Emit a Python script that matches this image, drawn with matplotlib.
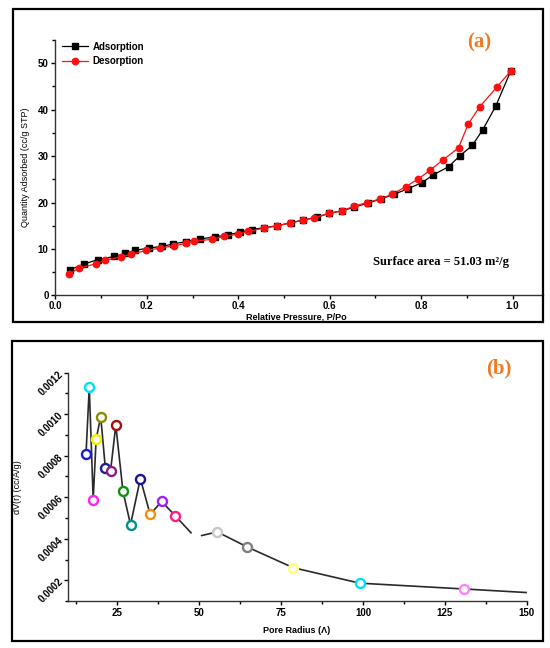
import matplotlib
matplotlib.use('Agg')
import matplotlib.pyplot as plt
from matplotlib.patches import Rectangle
from matplotlib.ticker import MultipleLocator, FormatStrFormatter

plt.rcParams['font.family'] = ['Liberation Sans', 'DejaVu Sans']

# (a) N2 isotherm
ads_p = [0.031, 0.062, 0.092, 0.129, 0.153, 0.173, 0.204, 0.234, 0.258, 0.286,
         0.317, 0.349, 0.378, 0.404, 0.429, 0.457, 0.485, 0.516, 0.541, 0.573,
         0.599, 0.626, 0.653, 0.683, 0.713, 0.741, 0.772, 0.802, 0.827, 0.860,
         0.884, 0.912, 0.935, 0.963, 0.996]
ads_q = [5.5, 6.75, 7.7, 8.4, 9.05, 9.7, 10.2, 10.6, 11.1, 11.6,
         12.2, 12.6, 13.1, 13.6, 14.2, 14.6, 15.0, 15.7, 16.2, 16.9,
         17.7, 18.2, 19.0, 19.9, 20.8, 21.8, 23.0, 24.3, 26.0, 27.7,
         30.0, 32.3, 35.7, 40.7, 48.3]
des_p = [0.030, 0.051, 0.088, 0.109, 0.144, 0.166, 0.199, 0.229, 0.259, 0.286,
         0.304, 0.342, 0.368, 0.399, 0.421, 0.457, 0.485, 0.513, 0.541, 0.565,
         0.599, 0.626, 0.653, 0.682, 0.711, 0.737, 0.766, 0.794, 0.820, 0.848,
         0.882, 0.903, 0.928, 0.966, 0.996]
des_q = [4.6, 5.9, 6.8, 7.6, 8.3, 8.9, 9.7, 10.2, 10.7, 11.2,
         11.7, 12.1, 12.7, 13.2, 13.8, 14.5, 15.0, 15.6, 16.2, 16.7,
         17.7, 18.2, 19.2, 20.0, 20.8, 21.8, 23.4, 25.1, 27.0, 29.2,
         31.8, 36.9, 40.6, 44.9, 48.3]

# (b) pore size distribution
radius = [15.4, 16.4, 17.6, 18.5, 19.9, 21.3, 22.9, 24.5, 26.7, 29.0,
          32.0, 35.0, 38.5, 42.7, 48.7, 55.5, 64.7, 78.6, 99.0, 130.9, 149.8]
dv = [0.000806, 0.00113, 0.000588, 0.000881, 0.000988, 0.000742, 0.000727,
      0.000947, 0.000628, 0.000468, 0.00069, 0.000517, 0.00058, 0.00051,
      0.000408, 0.000433, 0.00036, 0.000261, 0.000186, 0.000158, 0.000141]
ring_colors = ['#1a1ae6', '#00e0f0', '#ff22ee', '#f0f000', '#8c8c00', '#1c1c8c',
               '#8c1c8c', '#a01010', '#109010', '#009090', '#1515a0', '#ff8c00',
               '#a020f0', '#ff1a80', 'white', '#c8c8c8', '#808080', '#ffff80',
               '#00e0f0', '#ff80ff', None]

fig = plt.figure(figsize=(5.5, 6.48), dpi=100)

# panel frames
for (x0, y0, x1, y1) in [(12.7, 9.3, 542.7, 321.7), (11.7, 341, 543.3, 640.5)]:
    fig.patches.append(Rectangle((x0 / 550, 1 - y1 / 648), (x1 - x0) / 550, (y1 - y0) / 648,
                                 transform=fig.transFigure, fill=False,
                                 edgecolor='black', linewidth=1.6))

# ---- (a)
ax1 = fig.add_axes([0.1009, 0.544, 0.8858, 0.3943])
ax1.plot(ads_p, ads_q, color='black', marker='s', markersize=3.8, linewidth=0.9, label='Adsorption')
ax1.plot(des_p, des_q, color='#ff1010', marker='o', markersize=4.6, linewidth=0.9, label='Desorption')
ax1.set_xlim(0, 1.066)
ax1.set_ylim(0, 55)
ax1.xaxis.set_major_locator(MultipleLocator(0.2))
ax1.xaxis.set_minor_locator(MultipleLocator(0.1))
ax1.yaxis.set_major_locator(MultipleLocator(10))
ax1.yaxis.set_minor_locator(MultipleLocator(5))
ax1.xaxis.set_major_formatter(FormatStrFormatter('%.1f'))
ax1.set_xlabel('Relative Pressure, P/Po', fontsize=6.5, fontweight='bold')
ax1.set_ylabel('Quantity Adsorbed (cc/g STP)', fontsize=6.5)
ax1.xaxis.set_label_coords(0.494, -0.066)
ax1.yaxis.set_label_coords(-0.052, 0.5)
leg = ax1.legend(loc='upper left', bbox_to_anchor=(0.0, 1.02), frameon=False,
                 prop=dict(size=7, weight='bold'), handlelength=2.6, handletextpad=0.5,
                 labelspacing=0.45, borderaxespad=0.3)

# ---- (b)
ax2 = fig.add_axes([0.1242, 0.0725, 0.8335, 0.3523])
ax2.plot(radius, dv, color='#2a2a2a', linewidth=1.2, zorder=2)
for r, v, c in zip(radius, dv, ring_colors):
    if c is None:
        continue
    ax2.plot(r, v, marker='o', markersize=6.5, markerfacecolor='white',
             markeredgecolor=c, markeredgewidth=1.7, linestyle='none', zorder=3)
ax2.set_xlim(10, 150)
ax2.set_ylim(0.0001, 0.0012)
ax2.xaxis.set_major_locator(MultipleLocator(25))
ax2.xaxis.set_minor_locator(MultipleLocator(12.5))
ax2.yaxis.set_major_locator(MultipleLocator(0.0002))
ax2.yaxis.set_minor_locator(MultipleLocator(0.0001))
ax2.yaxis.set_major_formatter(FormatStrFormatter('%.4f'))
ax2.set_xlabel('Pore Radius (\u039b)', fontsize=6.5, fontweight='bold')
ax2.set_ylabel('dV(r) (cc/A/g)', fontsize=6.5)
ax2.xaxis.set_label_coords(0.499, -0.108)
ax2.yaxis.set_label_coords(-0.101, 0.5)
for lab in ax2.get_yticklabels():
    lab.set_rotation(45)
    lab.set_rotation_mode('anchor')
    lab.set_ha('right')
    lab.set_va('center')

for ax in (ax1, ax2):
    ax.spines['top'].set_visible(False)
    ax.spines['right'].set_visible(False)
    for s in ('left', 'bottom'):
        ax.spines[s].set_linewidth(1.0)
        ax.spines[s].set_color('#333333')
    ax.tick_params(which='major', direction='out', length=3, width=1.0, labelsize=7, pad=2)
    ax.tick_params(which='minor', direction='out', length=2, width=1.0)
    for lab in ax.get_xticklabels() + ax.get_yticklabels():
        lab.set_fontweight('bold')
ax1.tick_params(axis='x', which='major', pad=1)

fig.text(479 / 550, 1 - 42 / 648, '(a)', color='#f07a22', fontsize=15, fontweight='bold',
         family='Liberation Serif', ha='center', va='center')
fig.text(499 / 550, 1 - 368 / 648, '(b)', color='#f07a22', fontsize=15, fontweight='bold',
         family='Liberation Serif', ha='center', va='center')
fig.text(373 / 550, 1 - 262 / 648, 'Surface area = 51.03 m\u00b2/g', fontsize=9, fontweight='bold',
         family='Liberation Serif', ha='left', va='center')

fig.savefig('out.png', dpi=100)
